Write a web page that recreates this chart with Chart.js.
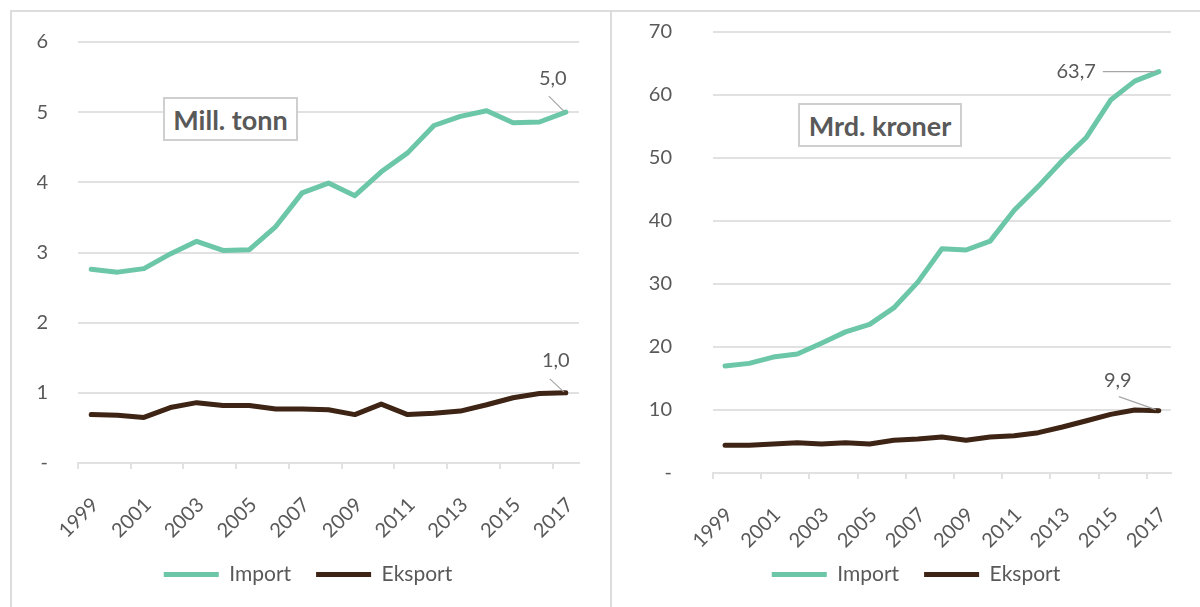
<!DOCTYPE html>
<html>
<head>
<meta charset="utf-8">
<script src="https://cdn.jsdelivr.net/npm/chart.js@4/dist/chart.umd.min.js"></script>
<style>
  html, body { margin: 0; padding: 0; background: #fff; }
  body { width: 1200px; height: 607px; overflow: hidden; position: relative; font-family: Lato, sans-serif; }
  .frame { position: absolute; left: 10px; top: 10px; width: 1200px; height: 620px; border-left: 2px solid #dcdcdc; border-top: 2px solid #dcdcdc; box-sizing: border-box; }
  .divider { position: absolute; left: 610px; top: 10px; width: 2px; height: 620px; background: #dcdcdc; }
  .wrap { position: absolute; top: 12px; height: 595px; }
  .unit-box { position: absolute; background: #fff; border: 2px solid #cfcfcf; box-sizing: border-box;
              display: flex; align-items: center; justify-content: center;
              font: bold 27px Lato, sans-serif; color: #595959; }
</style>
</head>
<body>
<div class="frame"></div>
<div class="divider"></div>
<div class="wrap" style="left:12px;width:598px"><canvas id="tonn"></canvas></div>
<div class="wrap" style="left:612px;width:588px"><canvas id="kroner"></canvas></div>
<div class="unit-box" style="left:163px;top:97px;width:135px;height:44px">Mill. tonn</div>
<div class="unit-box" style="left:798px;top:103px;width:164px;height:44px">Mrd. kroner</div>

<script>
// ── Data ────────────────────────────────────────────────────────────
const YEARS = ['1999','2000','2001','2002','2003','2004','2005','2006','2007','2008',
               '2009','2010','2011','2012','2013','2014','2015','2016','2017'];

// Mill. tonn
const TONN_IMPORT  = [2.76, 2.72, 2.77, 2.98, 3.16, 3.03, 3.04, 3.37, 3.85, 3.99,
                      3.81, 4.15, 4.42, 4.81, 4.94, 5.02, 4.85, 4.86, 5.00];
const TONN_EKSPORT = [0.69, 0.68, 0.65, 0.79, 0.86, 0.82, 0.82, 0.77, 0.77, 0.76,
                      0.69, 0.84, 0.69, 0.71, 0.74, 0.83, 0.93, 0.99, 1.00];

// Mrd. kroner
const KR_IMPORT  = [17.0, 17.4, 18.4, 18.9, 20.6, 22.4, 23.6, 26.2, 30.3, 35.6,
                    35.4, 36.8, 41.7, 45.5, 49.6, 53.3, 59.2, 62.2, 63.7];
const KR_EKSPORT = [4.4, 4.4, 4.6, 4.8, 4.6, 4.8, 4.6, 5.2, 5.4, 5.7,
                    5.2, 5.7, 5.9, 6.4, 7.3, 8.3, 9.3, 10.0, 9.9];

const TONN_TICKS = { max: 6, step: 1 };
const KR_TICKS   = { max: 70, step: 10 };

const COL_IMPORT  = '#6cc6a8';
const COL_EKSPORT = '#3e2414';
const TXT = '#595959';
const GRID = '#e1e1e1';

// ── Last-value labels with leader lines ─────────────────────────────
const endLabelPlugin = {
  id: 'endLabels',
  afterDatasetsDraw(chart, args, opts) {
    const { ctx, scales } = chart;
    (opts.items || []).forEach(it => {
      const ds = chart.data.datasets[it.ds];
      const last = ds.data.length - 1;
      const v = ds.data[last];
      const x = scales.x.getPixelForValue(last);
      const y = scales.y.getPixelForValue(v);
      ctx.save();
      ctx.strokeStyle = '#a6a6a6';
      ctx.lineWidth = 1.2;
      ctx.beginPath();
      ctx.moveTo(x + it.l0[0], y + it.l0[1]);
      ctx.lineTo(x + it.l1[0], y + it.l1[1]);
      ctx.stroke();
      ctx.font = '20px Lato, sans-serif';
      ctx.fillStyle = TXT;
      ctx.textAlign = it.align;
      ctx.textBaseline = 'middle';
      ctx.fillText(v.toFixed(1).replace('.', ','), x + it.dx, y + it.dy);
      ctx.restore();
    });
  },
};

// year labels hang below the x box; widen its clip so they are not cut
const unclipX = {
  id: 'unclipX',
  afterLayout(chart) { chart.scales.x.bottom = chart.height; },
};

function makeChart(id, imp, eks, tk, geo, labels) {
  const ds = (label, data, color) => ({
    label, data,
    borderColor: color, backgroundColor: color,
    borderWidth: 5, borderCapStyle: 'round', borderJoinStyle: 'round',
    pointRadius: 0, tension: 0, fill: false,
  });
  return new Chart(document.getElementById(id), {
    type: 'line',
    data: { labels: YEARS, datasets: [ds('Import', imp, COL_IMPORT), ds('Eksport', eks, COL_EKSPORT)] },
    options: {
      responsive: true,
      maintainAspectRatio: false,
      animation: false,
      layout: { padding: { top: geo.top, left: geo.left, right: geo.right, bottom: geo.bottom } },
      plugins: {
        legend: {
          position: 'bottom',
          labels: {
            color: TXT, font: { family: 'Lato', size: 21 },
            usePointStyle: true, pointStyle: 'line', pointStyleWidth: 55,
            padding: 25,
          },
        },
        tooltip: { enabled: false },
        endLabels: { items: labels },
      },
      scales: {
        x: {
          offset: true,
          afterFit: s => { s.height = geo.xh; },
          grid: {
            offset: true, drawOnChartArea: false, tickLength: 6, lineWidth: 2,
            color: c => (c.index % 2 === 0 ? GRID : 'rgba(0,0,0,0)'),
          },
          border: { color: GRID, width: 2 },
          ticks: {
            autoSkip: false, minRotation: 45, maxRotation: 45, padding: 24, labelOffset: 4,
            color: TXT, font: { family: 'Lato', size: 20 },
            callback: (v, i) => (i % 2 === 0 ? YEARS[i] : ''),
          },
        },
        y: {
          min: 0, max: tk.max,
          afterFit: s => { s.width = geo.yw; },
          grid: { color: GRID, lineWidth: 2, drawTicks: true, tickLength: geo.ygap, tickColor: 'rgba(0,0,0,0)' },
          border: { display: false },
          ticks: {
            stepSize: tk.step, padding: 3,
            color: TXT, font: { family: 'Lato', size: 20 },
            callback: v => (v === 0 ? '-' : v),
          },
        },
      },
    },
    plugins: [endLabelPlugin, unclipX],
  });
}

makeChart('tonn', TONN_IMPORT, TONN_EKSPORT, TONN_TICKS,
  { top: 30, left: 25, right: 31, bottom: 12, xh: 76, yw: 41, ygap: 27 },
  [
    { ds: 0, dx: -13, dy: -34, align: 'center', l0: [-17, -16], l1: [-2, -1] },
    { ds: 1, dx: -10, dy: -32, align: 'center', l0: [-16, -14], l1: [-2, -1] },
  ]);

makeChart('kroner', KR_IMPORT, KR_EKSPORT, KR_TICKS,
  { top: 20, left: 28, right: 8, bottom: 12, xh: 66, yw: 73, ygap: 38 },
  [
    { ds: 0, dx: -63, dy: 0, align: 'right', l0: [-56, 0], l1: [-3, 0] },
    { ds: 1, dx: -41, dy: -30, align: 'center', l0: [-40, -14], l1: [-3, -1] },
  ]);
</script>
</body>
</html>
